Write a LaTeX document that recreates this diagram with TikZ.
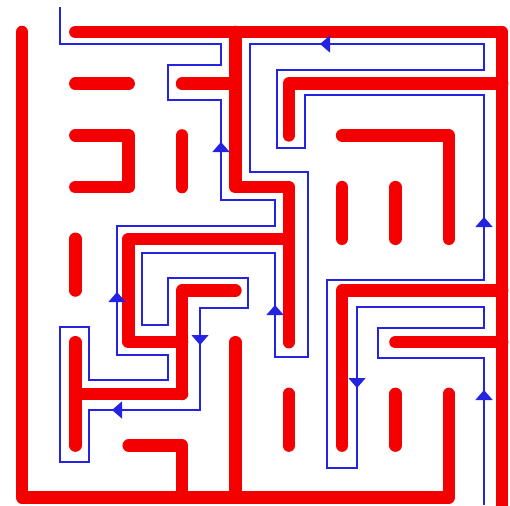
\documentclass[tikz,border=0pt]{standalone}
\usetikzlibrary{arrows.meta}
\definecolor{wallred}{RGB}{245,0,0}
\definecolor{routeblue}{RGB}{35,35,225}
\begin{document}
\begin{tikzpicture}[
		x=1pt, y=-1pt,
		wall/.style={draw=wallred, line width=12.5pt, line cap=round, line join=round},
		route/.style={draw=routeblue, line width=1.3pt},
		heading/.style={route, fill=routeblue, -{Triangle[width=17pt,length=10pt]}}
	]
	\useasboundingbox (0,0) rectangle (510,505);
	\clip (0,0) rectangle (510,505);
	\begin{scope}[shift={(22,32)}, x=53.35pt, y=-51.7pt]
		\draw[wall] (0,0) -- (0,9) -- (8,9) -- (8,7);
		\draw[wall] (1,0) -- (9,0) -- (9,9.4);
		\draw[wall] (1,1) -- (2,1);
		\draw[wall] (4,0) -- (4,3) -- (5,3) -- (5,6);
		\draw[wall] (3,1) -- (4,1);
		\draw[wall] (5,2) -- (5,1) -- (9,1);
		\draw[wall] (1,2) -- (2,2) -- (2,3) -- (1,3);
		\draw[wall] (3,2) -- (3,3);
		\draw[wall] (6,2) -- (8,2) -- (8,4);
		\draw[wall] (6,3) -- (6,4);
		\draw[wall] (7,3) -- (7,4);
		\draw[wall] (1,4) -- (1,5);
		\draw[wall] (5,4) -- (2,4) -- (2,6) -- (3,6);
		\draw[wall] (4,5) -- (3,5) -- (3,7);
		\draw[wall] (1,6) -- (1,8);
		\draw[wall] (1,7) -- (3,7);
		\draw[wall] (9,5) -- (6,5) -- (6,8);
		\draw[wall] (7,6) -- (9,6);
		\draw[wall] (2,8) -- (3,8) -- (3,9);
		\draw[wall] (4,6) -- (4,9);
		\draw[wall] (5,7) -- (5,8);
		\draw[wall] (7,7) -- (7,8);
	\end{scope}
	\draw[route] (484,505) -- (484,358) -- (378,358) -- (378,328) -- (484,328) -- (484,307)
		-- (357,307) -- (357,468) -- (327,468) -- (327,280) -- (484,280) -- (484,95)
		-- (305,95) -- (305,148) -- (277,148) -- (277,70) -- (484,70) -- (484,44)
		-- (250,44) -- (250,172) -- (308,172) -- (308,357) -- (275,357) -- (275,253)
		-- (142,253) -- (142,325) -- (168,325) -- (168,278) -- (248,278) -- (248,308)
		-- (200,308) -- (200,410) -- (89,410) -- (89,462) -- (60,462) -- (60,327)
		-- (89,327) -- (89,380) -- (168,380) -- (168,355) -- (117,355) -- (117,226)
		-- (275,226) -- (275,200) -- (221,200) -- (221,100) -- (168,100) -- (168,65)
		-- (221,65) -- (221,44) -- (60,44) -- (60,7);
	\draw[heading] (484,404) -- (484,390);
	\draw[heading] (357,374) -- (357,388);
	\draw[heading] (484,231) -- (484,217);
	\draw[heading] (334,44) -- (320,44);
	\draw[heading] (275,319) -- (275,305);
	\draw[heading] (200,331) -- (200,345);
	\draw[heading] (126,410) -- (112,410);
	\draw[heading] (117,306) -- (117,292);
	\draw[heading] (221,156) -- (221,142);
\end{tikzpicture}
\end{document}
